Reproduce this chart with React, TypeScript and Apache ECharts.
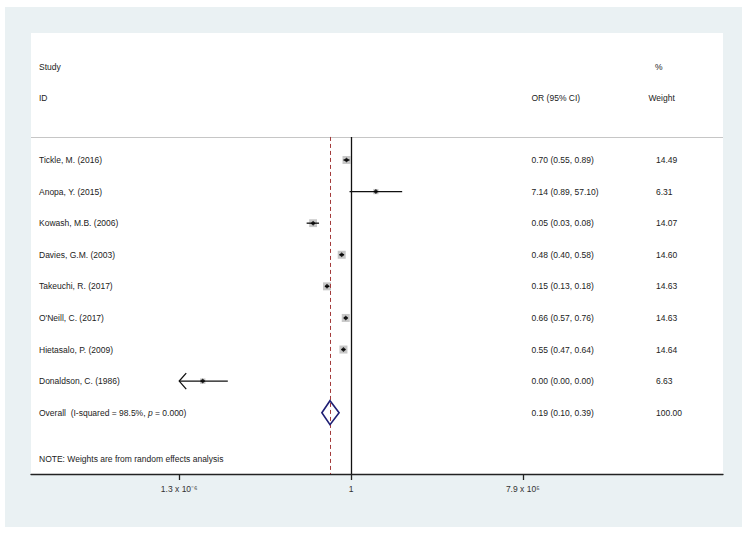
import React, { useEffect, useRef } from "react";
import * as echarts from "echarts";

// ---------- data ----------
const studies = [
  "Tickle, M. (2016)",
  "Anopa, Y. (2015)",
  "Kowash, M.B. (2006)",
  "Davies, G.M. (2003)",
  "Takeuchi, R. (2017)",
  "O'Neill, C. (2017)",
  "Hietasalo, P. (2009)",
  "Donaldson, C. (1986)",
];
const oddsRatios = [0.7, 7.14, 0.05, 0.48, 0.15, 0.66, 0.55, 0.0000081];
const ciLower = [0.55, 0.89, 0.03, 0.4, 0.13, 0.57, 0.47, 0.0000001];
const ciUpper = [0.89, 57.1, 0.08, 0.58, 0.18, 0.76, 0.64, 0.000059];
const weights = [14.49, 6.31, 14.07, 14.6, 14.63, 14.63, 14.64, 6.63];
const orLabels = [
  "0.70 (0.55, 0.89)",
  "7.14 (0.89, 57.10)",
  "0.05 (0.03, 0.08)",
  "0.48 (0.40, 0.58)",
  "0.15 (0.13, 0.18)",
  "0.66 (0.57, 0.76)",
  "0.55 (0.47, 0.64)",
  "0.00 (0.00, 0.00)",
];
const weightLabels = ["14.49", "6.31", "14.07", "14.60", "14.63", "14.63", "14.64", "6.63"];
const overallOR = 0.19;
const overallCI = [0.1, 0.39];
const overallORLabel = "0.19 (0.10, 0.39)";
const overallWeightLabel = "100.00";
const overallTitle = "Overall  (I-squared = 98.5%, {it|p} = 0.000)";
const noteText = "NOTE: Weights are from random effects analysis";
const headerStudy = ["Study", "ID"];
const headerOR = "OR (95% CI)";
const headerWeight = ["%", "Weight"];
const tickValues = [1 / 790000, 1, 790000];
const tickLabels = ["1.3 x 10\u207B\u2076", "1", "7.9 x 10\u2075"];

// ---------- layout ----------
const FONT = "'Liberation Sans', Arial, Helvetica, sans-serif";
const FS = 8.5;
const TXT = "#222";
const GRID_LEFT = 26;
const GRID_TOP = 26;
const GRID_W = 692;
const GRID_H = 441;
const PX_PER_LN = 12.65;
const ZERO_PX = 346 - GRID_LEFT; // null line offset inside grid
const X_MIN = -ZERO_PX / PX_PER_LN;
const X_MAX = (GRID_W - ZERO_PX) / PX_PER_LN;
const Y_MIN = -4.02;
const Y_MAX = 9.94;
const SEP_ROW = -0.73;
const OVERALL_ROW = studies.length;
const NOTE_ROW = 9.45;
const DIAMOND_HALF = 0.38;
const BOX_MAX = 8;
const COL_NAME = 34;
const COL_OR = 526.5;
const COL_W = 651;
const COL_WH = 643.5;
const COL_PCT = 650;

const ln = Math.log;
const tickLn = tickValues.map(ln);
const CLIP_MIN = tickLn[0];
const CLIP_MAX = tickLn[2];

type Cell = { x: number; row: number; text: string };

export default function App() {
  const ref = useRef<HTMLDivElement>(null);

  useEffect(() => {
    const chart = echarts.init(ref.current!, undefined, { renderer: "svg" });

    const cells: Cell[] = [
      { x: COL_NAME, row: -2.95, text: headerStudy[0] },
      { x: COL_PCT, row: -2.95, text: headerWeight[0] },
      { x: COL_NAME, row: -1.95, text: headerStudy[1] },
      { x: COL_OR, row: -1.95, text: headerOR },
      { x: COL_WH, row: -1.95, text: headerWeight[1] },
    ];
    studies.forEach((s, i) => {
      cells.push({ x: COL_NAME, row: i, text: s });
      cells.push({ x: COL_OR, row: i, text: orLabels[i] });
      cells.push({ x: COL_W, row: i, text: weightLabels[i] });
    });
    cells.push({ x: COL_NAME, row: OVERALL_ROW, text: overallTitle });
    cells.push({ x: COL_OR, row: OVERALL_ROW, text: overallORLabel });
    cells.push({ x: COL_W, row: OVERALL_ROW, text: overallWeightLabel });
    cells.push({ x: COL_NAME, row: NOTE_ROW, text: noteText });

    const maxW = Math.max(...weights);
    const lnOverall = ln(overallOR);

    const option: any = {
      animation: false,
      backgroundColor: "#eaf1f3",
      grid: {
        left: GRID_LEFT,
        top: GRID_TOP,
        width: GRID_W,
        height: GRID_H,
        show: true,
        backgroundColor: "#ffffff",
        borderWidth: 0,
      },
      xAxis: {
        type: "value",
        min: X_MIN,
        max: X_MAX,
        axisLine: { show: true, onZero: false, lineStyle: { color: "#222", width: 1.3 } },
        axisTick: { show: true, customValues: tickLn, length: 6, lineStyle: { color: "#222", width: 1.3 } },
        axisLabel: {
          show: true,
          customValues: tickLn,
          margin: 10,
          fontSize: FS,
          fontFamily: FONT,
          color: "#333",
          formatter: (v: number) => {
            let best = 0;
            tickLn.forEach((t, i) => {
              if (Math.abs(t - v) < Math.abs(tickLn[best] - v)) best = i;
            });
            return tickLabels[best];
          },
        },
        splitLine: { show: false },
      },
      yAxis: { type: "value", inverse: true, min: Y_MIN, max: Y_MAX, show: false },
      series: [
        {
          name: "texts",
          type: "custom",
          z: 2,
          silent: true,
          data: cells.map((c, i) => [0, c.row, i]),
          renderItem: (params: any, api: any) => {
            const c = cells[params.dataIndex];
            const y = api.coord([0, c.row])[1];
            return {
              type: "text",
              x: c.x,
              y,
              style: {
                text: c.text,
                fill: TXT,
                fontSize: FS,
                fontFamily: FONT,
                align: "left",
                verticalAlign: "middle",
                rich: {
                  it: { fontStyle: "italic", fontSize: FS, fontFamily: FONT, fill: TXT },
                },
              },
            };
          },
          markLine: {
            symbol: ["none", "none"],
            silent: true,
            label: { show: false },
            emphasis: { disabled: true },
            data: [
              [
                { coord: [X_MIN, SEP_ROW], lineStyle: { color: "#c6c6c6", width: 1, type: "solid" } },
                { coord: [X_MAX, SEP_ROW] },
              ],
              [
                { coord: [0, SEP_ROW], lineStyle: { color: "#111", width: 1.3, type: "solid" } },
                { coord: [0, Y_MAX] },
              ],
              [
                { coord: [lnOverall, SEP_ROW], lineStyle: { color: "#a33a3a", width: 1, type: [4, 3] } },
                { coord: [lnOverall, Y_MAX] },
              ],
            ],
          },
        },
        {
          name: "boxes",
          type: "scatter",
          z: 3,
          silent: true,
          symbol: "rect",
          symbolSize: (_v: any, p: any) => BOX_MAX * Math.sqrt(weights[p.dataIndex] / maxW),
          itemStyle: { color: "#b9b9b9" },
          data: oddsRatios.map((o, i) => [ln(o), i]),
        },
        {
          name: "ci",
          type: "custom",
          z: 4,
          silent: true,
          encode: { x: [0, 1], y: 2 },
          data: ciLower.map((lo, i) => [ln(lo), ln(ciUpper[i]), i]),
          renderItem: (_p: any, api: any) => {
            const lo = api.value(0);
            const hi = api.value(1);
            const row = api.value(2);
            const p1 = api.coord([Math.max(lo, CLIP_MIN), row]);
            const p2 = api.coord([Math.min(hi, CLIP_MAX), row]);
            const children: any[] = [
              {
                type: "line",
                shape: { x1: p1[0], y1: p1[1], x2: p2[0], y2: p2[1] },
                style: { stroke: "#111", lineWidth: 1.3 },
              },
            ];
            if (lo < CLIP_MIN) {
              children.push({
                type: "polyline",
                shape: { points: [[p1[0] + 7, p1[1] - 8], [p1[0], p1[1]], [p1[0] + 7, p1[1] + 8]] },
                style: { stroke: "#111", lineWidth: 1.3, fill: "none" },
              });
            }
            if (hi > CLIP_MAX) {
              children.push({
                type: "polyline",
                shape: { points: [[p2[0] - 7, p2[1] - 8], [p2[0], p2[1]], [p2[0] - 7, p2[1] + 8]] },
                style: { stroke: "#111", lineWidth: 1.3, fill: "none" },
              });
            }
            return { type: "group", children };
          },
        },
        {
          name: "points",
          type: "scatter",
          z: 5,
          silent: true,
          symbol: "diamond",
          symbolSize: 5,
          itemStyle: { color: "#000" },
          data: oddsRatios.map((o, i) => [ln(o), i]),
        },
        {
          name: "overall",
          type: "custom",
          z: 6,
          silent: true,
          encode: { x: [0, 1, 2], y: 3 },
          data: [[ln(overallCI[0]), ln(overallOR), ln(overallCI[1]), OVERALL_ROW]],
          renderItem: (_p: any, api: any) => {
            const lo = api.value(0);
            const mid = api.value(1);
            const hi = api.value(2);
            const row = api.value(3);
            return {
              type: "polygon",
              shape: {
                points: [
                  api.coord([lo, row]),
                  api.coord([mid, row - DIAMOND_HALF]),
                  api.coord([hi, row]),
                  api.coord([mid, row + DIAMOND_HALF]),
                ],
              },
              style: { stroke: "#1f1f74", lineWidth: 1.6, fill: "none" },
            };
          },
        },
      ],
    };

    chart.setOption(option);
    return () => chart.dispose();
  }, []);

  return (
    <div
      ref={ref}
      style={{ position: "absolute", left: 5, top: 7, width: 737, height: 520 }}
    />
  );
}
